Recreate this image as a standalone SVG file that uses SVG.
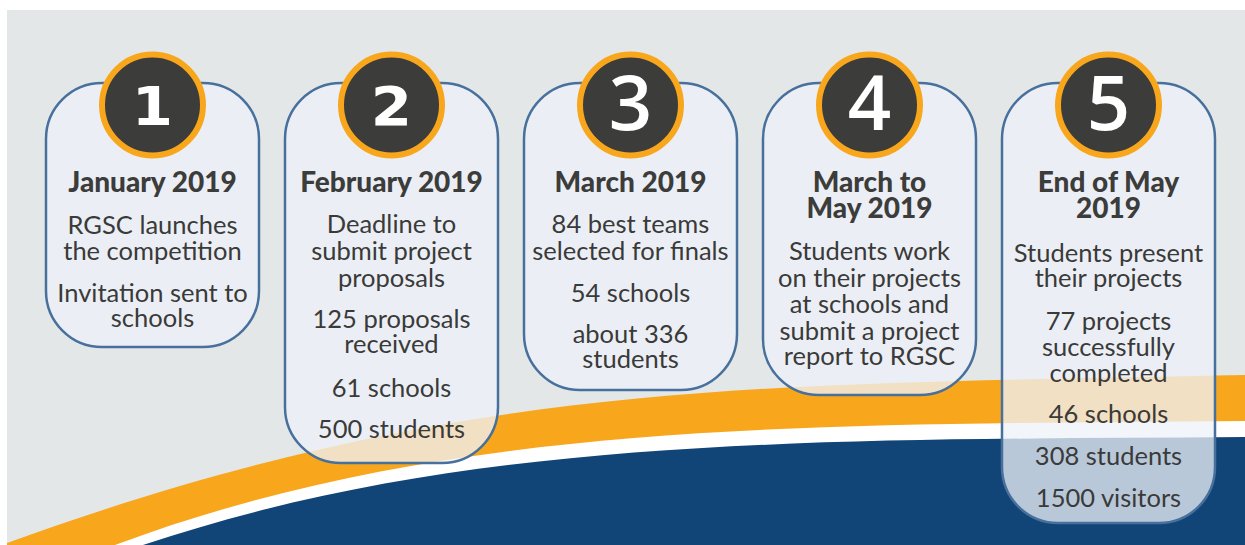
<svg xmlns="http://www.w3.org/2000/svg" width="1245" height="545" viewBox="0 0 1245 545">
<defs>
<style>
.card{fill:#eef2f8;fill-opacity:0.76;stroke:#47709c;stroke-width:2.5}
.ring{fill:#3c3c3b;stroke:#f8a71d;stroke-width:6}
.numa{font-family:"DejaVu Sans",sans-serif;font-weight:700;font-size:53px;fill:#ffffff;text-anchor:middle}
.numb{font-family:"Open Sans",sans-serif;font-weight:600;font-size:76px;fill:#ffffff;text-anchor:middle}
.ttl{font-family:Lato,"Liberation Sans",sans-serif;font-weight:900;font-size:28px;fill:#3c3c3b;text-anchor:middle}
.txt{font-family:Lato,"Liberation Sans",sans-serif;font-size:25.5px;fill:#3a3a39;text-anchor:middle}
</style>
</defs>
<rect x="7" y="10" width="1238" height="535" fill="#e3e7e8"/>
<g id="swoosh">
<path d="M7,543 C457,380 745,385 1245,375 L1245,545 L7,545 Z" fill="#f8a71d"/>
<path d="M115,545 C450,420 800,425 1245,421 L1245,545 Z" fill="#ffffff"/>
<path d="M143,545 C470,435 820,440 1245,437 L1245,545 Z" fill="#124577"/>
</g>
<g id="step1">
<rect class="card" x="46" y="83" width="213" height="264" rx="56"/>
<circle class="ring" cx="152.5" cy="105" r="50.5"/>
<text class="numa" transform="translate(152.5,125) scale(1.12,1)">1</text>
<text class="ttl" x="152.5" y="192">January 2019</text>
<text class="txt" x="152.5" y="234">RGSC launches</text>
<text class="txt" x="152.5" y="260">the competition</text>
<text class="txt" x="152.5" y="302">Invitation sent to</text>
<text class="txt" x="152.5" y="327">schools</text>
</g>
<g id="step2">
<rect class="card" x="285" y="83" width="213" height="380" rx="56"/>
<circle class="ring" cx="391.5" cy="105" r="50.5"/>
<text class="numa" transform="translate(391.5,125) scale(1.12,1)">2</text>
<text class="ttl" x="391.5" y="192">February 2019</text>
<text class="txt" x="391.5" y="233">Deadline to</text>
<text class="txt" x="391.5" y="260">submit project</text>
<text class="txt" x="391.5" y="287">proposals</text>
<text class="txt" x="391.5" y="328">125 proposals</text>
<text class="txt" x="391.5" y="353">received</text>
<text class="txt" x="391.5" y="397">61 schools</text>
<text class="txt" x="391.5" y="438">500 students</text>
</g>
<g id="step3">
<rect class="card" x="524" y="83" width="213" height="307" rx="56"/>
<circle class="ring" cx="630.5" cy="105" r="50.5"/>
<text class="numb" x="630.5" y="130">3</text>
<text class="ttl" x="630.5" y="192">March 2019</text>
<text class="txt" x="630.5" y="233">84 best teams</text>
<text class="txt" x="630.5" y="260">selected for finals</text>
<text class="txt" x="630.5" y="302">54 schools</text>
<text class="txt" x="630.5" y="343">about 336</text>
<text class="txt" x="630.5" y="368">students</text>
</g>
<g id="step4">
<rect class="card" x="763" y="83" width="213" height="312" rx="56"/>
<circle class="ring" cx="869.5" cy="105" r="50.5"/>
<text class="numb" x="869.5" y="130">4</text>
<text class="ttl" x="869.5" y="192">March to</text>
<text class="ttl" x="869.5" y="218">May 2019</text>
<text class="txt" x="869.5" y="260">Students work</text>
<text class="txt" x="869.5" y="287">on their projects</text>
<text class="txt" x="869.5" y="313">at schools and</text>
<text class="txt" x="869.5" y="340">submit a project</text>
<text class="txt" x="869.5" y="365">report to RGSC</text>
</g>
<g id="step5">
<rect class="card" x="1002" y="83" width="213" height="440" rx="56"/>
<circle class="ring" cx="1108.5" cy="105" r="50.5"/>
<text class="numb" x="1108.5" y="130">5</text>
<text class="ttl" x="1108.5" y="192">End of May</text>
<text class="ttl" x="1108.5" y="218">2019</text>
<text class="txt" x="1108.5" y="262">Students present</text>
<text class="txt" x="1108.5" y="287">their projects</text>
<text class="txt" x="1108.5" y="330">77 projects</text>
<text class="txt" x="1108.5" y="356">successfully</text>
<text class="txt" x="1108.5" y="382">completed</text>
<text class="txt" x="1108.5" y="423">46 schools</text>
<text class="txt" x="1108.5" y="465">308 students</text>
<text class="txt" x="1108.5" y="507">1500 visitors</text>
</g>
</svg>
